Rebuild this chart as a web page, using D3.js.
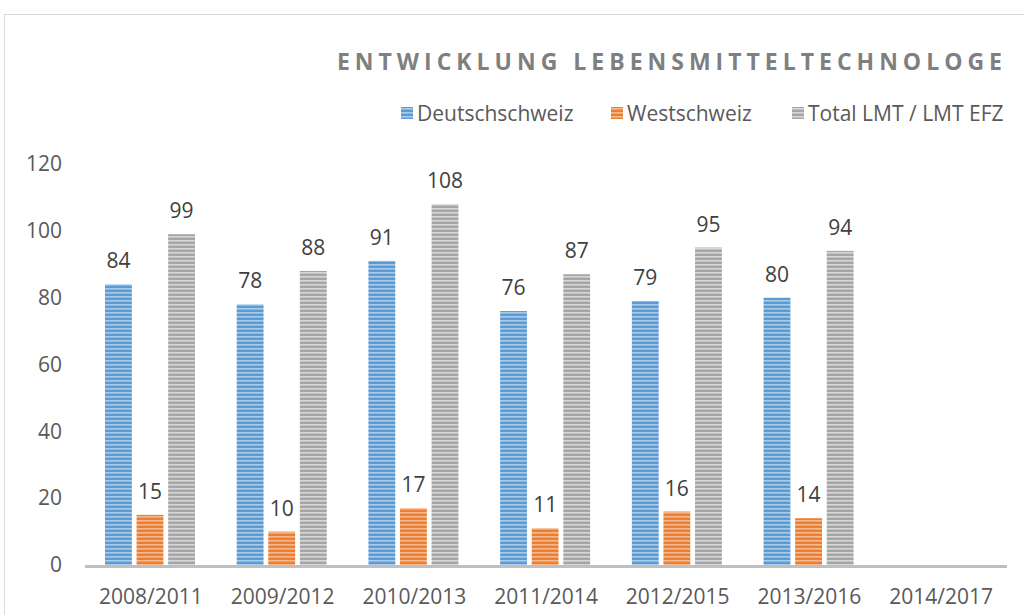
<html>
<head>
<meta charset="UTF-8"/>
<script src="https://d3js.org/d3.v7.min.js"></script>
<style>
body { margin: 0; background: #fff; }
text { font-family: "Open Sans", "Noto Sans", sans-serif; }
</style>
</head>
<body>
<script>
// data
const categories = ["2008/2011", "2009/2012", "2010/2013", "2011/2014", "2012/2015", "2013/2016", "2014/2017"];
const seriesNames = ["Deutschschweiz", "Westschweiz", "Total LMT / LMT EFZ"];
const deutsch = [84, 78, 91, 76, 79, 80, null];
const west = [15, 10, 17, 11, 16, 14, null];
const total = [99, 88, 108, 87, 95, 94, null];
const yTicks = [0, 20, 40, 60, 80, 100, 120];

const colors = [
  {base: "#5b9bd5", light: "#a9cbea"},
  {base: "#ed7d31", light: "#f6b98e"},
  {base: "#a5a5a5", light: "#d6d6d6"}
];

const width = 1024, height = 615;
const margin = {left: 85, right: 17};

const svg = d3.select("body").append("svg")
  .attr("width", width)
  .attr("height", height);

// striped fills
const defs = svg.append("defs");
colors.forEach((c, i) => {
  const p = defs.append("pattern")
    .attr("id", "stripe" + i)
    .attr("patternUnits", "userSpaceOnUse")
    .attr("width", 8).attr("height", 4);
  p.append("rect").attr("width", 8).attr("height", 4).attr("fill", c.base);
  p.append("rect").attr("y", 0).attr("width", 8).attr("height", 1.6).attr("fill", c.light);
});

// chart frame
svg.append("path")
  .attr("d", "M4.5," + height + "V14.5H" + width)
  .attr("fill", "none")
  .attr("stroke", "#d9d9d9")
  .attr("stroke-width", 1);

const x = d3.scaleBand()
  .domain(categories)
  .range([margin.left, width - margin.right]);

const y = d3.scaleLinear()
  .domain([0, 120])
  .range([565, 164]);

const inner = d3.scaleBand()
  .domain(d3.range(3))
  .range([20, 110])
  .paddingInner(0.15);

const series = [deutsch, west, total];

// bars
series.forEach((vals, si) => {
  const g = svg.append("g");
  const data = categories.map((c, i) => ({c, v: vals[i]})).filter(d => d.v != null);
  g.selectAll("rect").data(data).enter().append("rect")
    .attr("x", d => x(d.c) + inner(si))
    .attr("y", d => y(d.v))
    .attr("width", inner.bandwidth())
    .attr("height", d => y(0) - y(d.v))
    .attr("fill", "url(#stripe" + si + ")");
  g.selectAll("text").data(data).enter().append("text")
    .attr("x", d => x(d.c) + inner(si) + inner.bandwidth() / 2)
    .attr("y", d => y(d.v) - 16)
    .attr("text-anchor", "middle")
    .attr("font-size", 21)
    .attr("fill", "#404040")
    .text(d => d.v);
});

// baseline
svg.append("line")
  .attr("x1", margin.left).attr("x2", width - margin.right)
  .attr("y1", y(0) + 1.5).attr("y2", y(0) + 1.5)
  .attr("stroke", "#bfbfbf")
  .attr("stroke-width", 3);

// y axis labels
const yAxis = svg.append("g")
  .attr("transform", "translate(62,0)")
  .call(d3.axisLeft(y).tickValues(yTicks).tickSize(0).tickPadding(0));
yAxis.select(".domain").remove();
yAxis.selectAll("text")
  .attr("font-size", 21)
  .attr("font-family", "Open Sans, Noto Sans, sans-serif")
  .attr("fill", "#595959");

// x axis labels
const xAxis = svg.append("g")
  .attr("transform", "translate(0," + (y(0) + 18) + ")")
  .call(d3.axisBottom(x).tickSize(0).tickPadding(6));
xAxis.select(".domain").remove();
xAxis.selectAll("text")
  .attr("font-size", 21)
  .attr("font-family", "Open Sans, Noto Sans, sans-serif")
  .attr("fill", "#595959");

// title
svg.append("text")
  .attr("x", 1002 + 5)
  .attr("y", 70)
  .attr("text-anchor", "end")
  .attr("font-size", 23)
  .attr("font-weight", "bold")
  .attr("letter-spacing", 5)
  .attr("fill", "#7f7f7f")
  .text("ENTWICKLUNG LEBENSMITTELTECHNOLOGE");

// legend
const legendX = [401, 611, 792];
const legend = svg.append("g");
seriesNames.forEach((n, i) => {
  legend.append("rect")
    .attr("x", legendX[i]).attr("y", 107)
    .attr("width", 12).attr("height", 12)
    .attr("fill", "url(#stripe" + i + ")");
  legend.append("text")
    .attr("x", legendX[i] + 16).attr("y", 121)
    .attr("font-size", 21)
    .attr("fill", "#595959")
    .text(n);
});
</script>
</body>
</html>
